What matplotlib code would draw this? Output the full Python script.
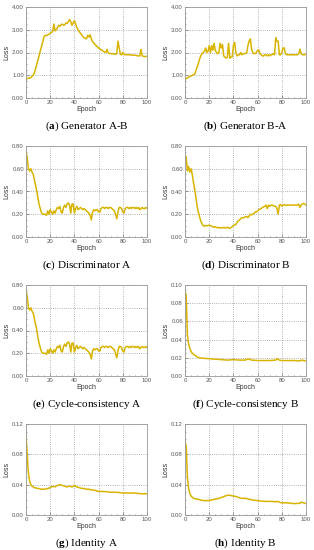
import numpy as np
import matplotlib
matplotlib.use('Agg')
import matplotlib.pyplot as plt
from matplotlib.ticker import AutoMinorLocator

plt.rcParams['font.family'] = 'Liberation Sans'
plt.rcParams['mathtext.fontset'] = 'custom'
plt.rcParams['mathtext.rm'] = 'Liberation Serif'
plt.rcParams['mathtext.bf'] = 'Liberation Serif:bold'

epochs = np.arange(0, 101)

gen_ab = [0.82, 0.85, 0.88, 0.87, 0.90, 0.95, 1.00, 1.12, 1.30, 1.50,
          1.70, 1.90, 2.10, 2.30, 2.50, 2.72, 2.75, 2.74, 2.78, 2.80,
          2.85, 2.88, 2.92, 3.25, 2.95, 3.00, 3.10, 3.20, 3.15, 3.22,
          3.25, 3.20, 3.22, 3.30, 3.28, 3.35, 3.45, 3.35, 3.20, 3.30,
          3.40, 3.25, 3.10, 3.00, 2.92, 2.85, 2.78, 2.70, 2.65, 2.62,
          2.60, 2.75, 2.68, 2.78, 2.60, 2.48, 2.42, 2.35, 2.30, 2.25,
          2.20, 2.16, 2.12, 2.10, 2.05, 2.02, 2.00, 2.14, 1.98, 1.95,
          1.96, 1.94, 1.95, 1.93, 1.92, 1.95, 2.50, 2.20, 1.92, 1.90,
          2.00, 1.92, 1.90, 1.91, 1.90, 1.90, 1.89, 1.90, 1.88, 1.88,
          1.88, 1.87, 1.86, 1.85, 1.85, 2.14, 1.86, 1.83, 1.82, 1.83,
          1.82]

gen_ba = [0.82, 0.85, 0.88, 0.92, 0.95, 0.97, 1.00, 1.02, 1.05, 1.20,
          1.35, 1.52, 1.70, 1.85, 1.95, 2.00, 2.05, 2.20, 2.00, 2.05,
          2.30, 2.00, 2.30, 2.10, 2.40, 2.10, 2.00, 1.95, 2.00, 2.40,
          2.20, 2.35, 1.85, 1.80, 1.75, 1.80, 2.40, 1.75, 1.80, 1.80,
          2.30, 2.45, 2.00, 1.85, 1.90, 1.90, 2.00, 1.90, 1.95, 1.95,
          1.95, 2.00, 2.30, 2.50, 2.60, 2.15, 2.00, 1.95, 1.95, 2.00,
          2.10, 2.10, 1.95, 1.90, 1.85, 1.85, 1.90, 1.90, 1.85, 1.90,
          1.85, 1.90, 1.90, 1.95, 1.90, 2.65, 2.50, 2.50, 1.90, 1.90,
          2.00, 2.20, 2.20, 1.95, 1.90, 1.90, 1.90, 1.90, 1.90, 1.90,
          1.90, 1.90, 1.90, 1.90, 1.95, 2.15, 1.95, 1.90, 1.90, 1.90,
          1.95]

disc_a = [0.75, 0.70, 0.60, 0.58, 0.60, 0.57, 0.55, 0.50, 0.45, 0.40,
          0.33, 0.28, 0.24, 0.21, 0.20, 0.20, 0.20, 0.19, 0.23, 0.20,
          0.24, 0.22, 0.20, 0.23, 0.21, 0.24, 0.26, 0.25, 0.27, 0.22,
          0.21, 0.26, 0.28, 0.26, 0.29, 0.30, 0.28, 0.21, 0.29, 0.29,
          0.21, 0.25, 0.27, 0.24, 0.25, 0.26, 0.25, 0.24, 0.25, 0.24,
          0.23, 0.22, 0.21, 0.19, 0.15, 0.22, 0.24, 0.23, 0.24, 0.24,
          0.22, 0.22, 0.25, 0.26, 0.26, 0.25, 0.26, 0.26, 0.25, 0.26,
          0.26, 0.25, 0.24, 0.23, 0.20, 0.16, 0.22, 0.26, 0.26, 0.25,
          0.22, 0.21, 0.25, 0.26, 0.26, 0.25, 0.26, 0.25, 0.26, 0.26,
          0.25, 0.26, 0.25, 0.26, 0.24, 0.25, 0.26, 0.25, 0.25, 0.26,
          0.25]

disc_b = [0.72, 0.70, 0.58, 0.62, 0.57, 0.60, 0.55, 0.48, 0.42, 0.35,
          0.27, 0.22, 0.18, 0.14, 0.12, 0.10, 0.095, 0.10, 0.10, 0.10,
          0.105, 0.10, 0.095, 0.09, 0.085, 0.09, 0.085, 0.08, 0.085, 0.08,
          0.08, 0.08, 0.085, 0.08, 0.08, 0.085, 0.08, 0.075, 0.085, 0.09,
          0.10, 0.105, 0.11, 0.13, 0.14, 0.15, 0.16, 0.17, 0.17, 0.17,
          0.18, 0.18, 0.17, 0.185, 0.20, 0.195, 0.20, 0.21, 0.22, 0.22,
          0.23, 0.24, 0.245, 0.25, 0.26, 0.265, 0.27, 0.28, 0.25, 0.28,
          0.27, 0.28, 0.28, 0.275, 0.27, 0.27, 0.25, 0.20, 0.28, 0.285,
          0.27, 0.28, 0.285, 0.28, 0.28, 0.28, 0.28, 0.28, 0.28, 0.28,
          0.28, 0.28, 0.28, 0.28, 0.29, 0.26, 0.28, 0.29, 0.295, 0.29,
          0.28]

cyc_a = list(disc_a)

cyc_b_ep = [0, 1, 2, 3, 4, 5, 6, 8, 10, 12, 15, 20, 25, 30, 35, 40, 45,
            50, 52, 55, 60, 70, 75, 76, 78, 80, 90, 95, 96, 100]
cyc_b = [0.093, 0.088, 0.045, 0.035, 0.030, 0.027, 0.025, 0.023, 0.021,
         0.020, 0.0195, 0.019, 0.0185, 0.018, 0.0175, 0.018, 0.0175,
         0.0175, 0.019, 0.0175, 0.017, 0.017, 0.0175, 0.019, 0.0175,
         0.017, 0.017, 0.0165, 0.0175, 0.0165]

id_a_ep = [0, 1, 2, 3, 4, 5, 7, 10, 13, 15, 18, 20, 22, 24, 26, 28, 30,
           32, 34, 36, 38, 40, 42, 44, 46, 48, 50, 52, 54, 56, 58, 60, 65,
           70, 75, 80, 85, 90, 95, 100]
id_a = [0.105, 0.080, 0.055, 0.045, 0.040, 0.038, 0.036, 0.035, 0.034,
        0.034, 0.035, 0.036, 0.038, 0.037, 0.039, 0.040, 0.039, 0.038,
        0.037, 0.038, 0.037, 0.039, 0.037, 0.036, 0.035, 0.035, 0.034,
        0.034, 0.033, 0.033, 0.032, 0.031, 0.031, 0.030, 0.030, 0.029,
        0.029, 0.029, 0.028, 0.028]

id_b_ep = [0, 1, 2, 3, 4, 5, 7, 10, 15, 18, 20, 22, 25, 28, 30, 33, 35,
           37, 40, 43, 46, 50, 55, 60, 65, 70, 75, 76, 78, 80, 85, 90, 95,
           96, 98, 100]
id_b = [0.097, 0.090, 0.050, 0.035, 0.028, 0.025, 0.022, 0.021, 0.019,
        0.019, 0.019, 0.020, 0.021, 0.022, 0.023, 0.025, 0.026, 0.026,
        0.025, 0.024, 0.022, 0.022, 0.020, 0.019, 0.018, 0.018, 0.0175,
        0.018, 0.017, 0.016, 0.016, 0.015, 0.0155, 0.017, 0.016, 0.015]

panels = [
    ('a', 'Generator A-B', epochs, gen_ab, [0, 1, 2, 3, 4]),
    ('b', 'Generator B-A', epochs, gen_ba, [0, 1, 2, 3, 4]),
    ('c', 'Discriminator A', epochs, disc_a, [0, 0.2, 0.4, 0.6, 0.8]),
    ('d', 'Discriminator B', epochs, disc_b, [0, 0.2, 0.4, 0.6, 0.8]),
    ('e', 'Cycle-consistency A', epochs, cyc_a, [0, 0.2, 0.4, 0.6, 0.8]),
    ('f', 'Cycle-consistency B', cyc_b_ep, cyc_b, [0, 0.02, 0.04, 0.06, 0.08, 0.10]),
    ('g', 'Identity A', id_a_ep, id_a, [0, 0.04, 0.08, 0.12]),
    ('h', 'Identity B', id_b_ep, id_b, [0, 0.04, 0.08, 0.12]),
]

W, H = 314, 550
fig = plt.figure(figsize=(W / 100, H / 100), dpi=100)

lefts = [26, 185]
tops = [7, 146, 285, 424]
aw, ah = 121, 91
line_col = '#D8B400'

for i, (tag, name, xs, ys, yt) in enumerate(panels):
    r, c = divmod(i, 2)
    l, t = lefts[c], tops[r]
    ax = fig.add_axes([l / W, 1 - (t + ah) / H, aw / W, ah / H])
    ax.plot(xs, ys, color=line_col, lw=1.1)
    ax.set_xlim(0, 100)
    ax.set_ylim(yt[0], yt[-1])
    ax.set_xticks([0, 20, 40, 60, 80, 100])
    ax.set_yticks(yt)
    ax.set_yticklabels(['%.2f' % v for v in yt])
    ax.xaxis.set_minor_locator(AutoMinorLocator(4))
    ax.yaxis.set_minor_locator(AutoMinorLocator(4))
    ax.grid(True, which='major', ls=':', color='#999999', lw=0.6)
    ax.tick_params(which='both', direction='in', colors='#555555',
                   labelsize=4.3, pad=1.5, width=0.4)
    ax.tick_params(which='major', length=2)
    ax.tick_params(which='minor', length=1)
    for sp in ax.spines.values():
        sp.set_color('#999999')
        sp.set_linewidth(0.6)
    ax.set_xlabel('Epoch', fontsize=5, labelpad=0.5, color='#333333')
    ax.set_ylabel('Loss', fontsize=5, labelpad=1, color='#333333')
    fig.text((l + aw / 2) / W, 1 - (t + ah + 28) / H,
             r'($\mathbf{%s}$) %s' % (tag, name),
             ha='center', va='center', fontsize=8,
             family='Liberation Serif')

fig.savefig('out.png', dpi=100)
